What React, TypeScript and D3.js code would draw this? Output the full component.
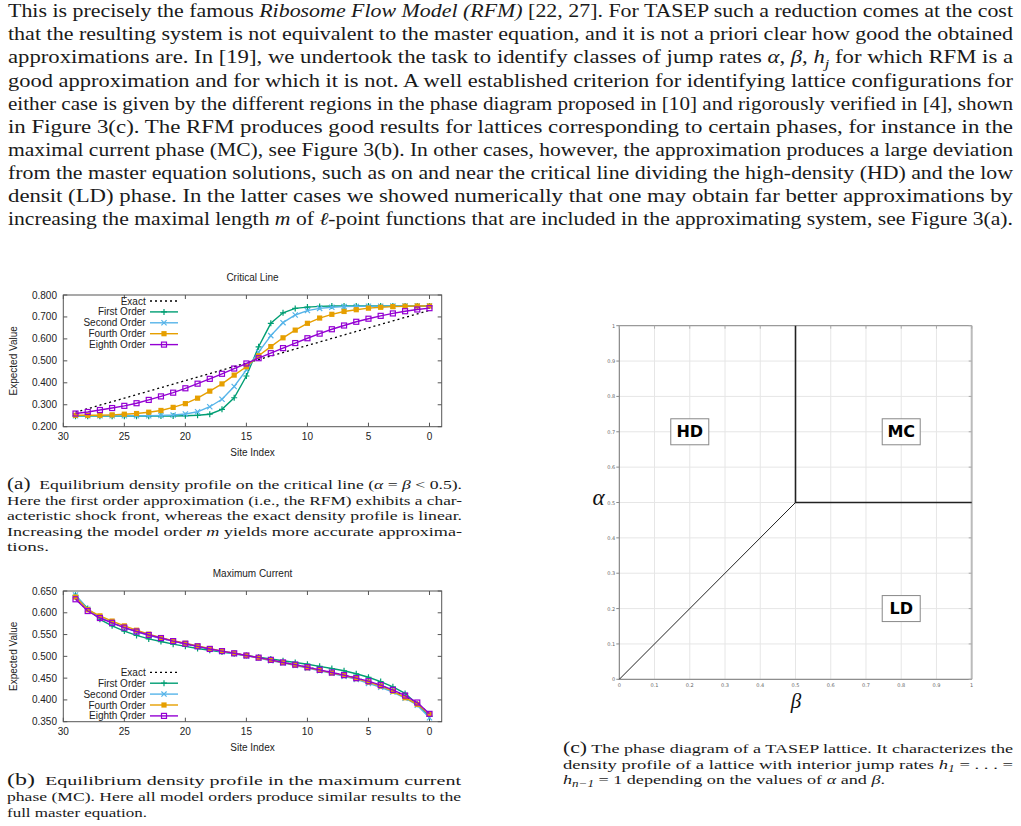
import * as d3 from 'd3'

// ---- data -------------------------------------------------------------

// lattice sites, drawn right to left (29 ... 0)
const SITES = [29, 28, 27, 26, 25, 24, 23, 22, 21, 20, 19, 18, 17, 16, 15, 14, 13, 12, 11, 10, 9, 8, 7, 6, 5, 4, 3, 2, 1, 0]

// critical line, alpha = beta < 0.5
const critExact = [0.266, 0.282, 0.298, 0.314, 0.330, 0.346, 0.362, 0.378, 0.394, 0.410, 0.426, 0.442, 0.458, 0.474, 0.490, 0.506, 0.522, 0.538, 0.554, 0.570, 0.586, 0.602, 0.618, 0.634, 0.650, 0.666, 0.682, 0.698, 0.714, 0.730]
const critFirst = [0.248, 0.248, 0.248, 0.248, 0.248, 0.248, 0.248, 0.249, 0.249, 0.250, 0.252, 0.257, 0.279, 0.332, 0.431, 0.564, 0.671, 0.719, 0.739, 0.745, 0.748, 0.750, 0.750, 0.750, 0.750, 0.750, 0.750, 0.750, 0.750, 0.750]
const critSecond = [0.250, 0.250, 0.250, 0.250, 0.250, 0.250, 0.250, 0.251, 0.253, 0.258, 0.268, 0.291, 0.325, 0.383, 0.459, 0.540, 0.615, 0.674, 0.709, 0.729, 0.739, 0.744, 0.747, 0.748, 0.749, 0.749, 0.750, 0.750, 0.750, 0.750]
const critFourth = [0.252, 0.252, 0.252, 0.254, 0.257, 0.260, 0.266, 0.274, 0.288, 0.305, 0.330, 0.362, 0.395, 0.435, 0.473, 0.523, 0.565, 0.605, 0.640, 0.671, 0.695, 0.712, 0.725, 0.733, 0.740, 0.744, 0.747, 0.749, 0.750, 0.750]
const critEighth = [0.260, 0.267, 0.276, 0.285, 0.295, 0.307, 0.322, 0.338, 0.355, 0.375, 0.396, 0.418, 0.441, 0.465, 0.488, 0.512, 0.535, 0.558, 0.581, 0.603, 0.624, 0.644, 0.661, 0.678, 0.692, 0.705, 0.716, 0.726, 0.734, 0.740]

// maximum current phase
const maxExact = [0.633, 0.605, 0.589, 0.577, 0.566, 0.557, 0.549, 0.542, 0.535, 0.529, 0.523, 0.517, 0.512, 0.507, 0.502, 0.497, 0.492, 0.486, 0.481, 0.475, 0.469, 0.463, 0.457, 0.450, 0.442, 0.433, 0.422, 0.409, 0.393, 0.367]
const maxFirst = [0.640, 0.610, 0.585, 0.570, 0.558, 0.548, 0.540, 0.534, 0.528, 0.523, 0.518, 0.514, 0.510, 0.506, 0.502, 0.498, 0.494, 0.490, 0.486, 0.482, 0.477, 0.472, 0.467, 0.460, 0.452, 0.442, 0.430, 0.415, 0.390, 0.362]
const maxSecond = [0.641, 0.608, 0.590, 0.577, 0.566, 0.556, 0.548, 0.541, 0.535, 0.529, 0.523, 0.517, 0.511, 0.506, 0.501, 0.496, 0.490, 0.485, 0.479, 0.473, 0.467, 0.461, 0.454, 0.447, 0.438, 0.429, 0.418, 0.404, 0.388, 0.359]
const maxFourth = [0.636, 0.607, 0.593, 0.581, 0.570, 0.560, 0.551, 0.543, 0.536, 0.530, 0.524, 0.518, 0.512, 0.507, 0.502, 0.497, 0.491, 0.486, 0.480, 0.474, 0.468, 0.462, 0.456, 0.449, 0.441, 0.432, 0.420, 0.405, 0.390, 0.367]
const maxEighth = [0.631, 0.604, 0.588, 0.577, 0.566, 0.557, 0.549, 0.542, 0.535, 0.529, 0.523, 0.517, 0.512, 0.507, 0.502, 0.497, 0.492, 0.486, 0.481, 0.475, 0.469, 0.463, 0.457, 0.450, 0.443, 0.434, 0.423, 0.410, 0.394, 0.368]

const SERIES_NAMES = ['Exact', 'First Order', 'Second Order', 'Fourth Order', 'Eighth Order']
const SERIES_COLORS = ['#000000', '#009e73', '#56b4e9', '#e69f00', '#9400d3']
const SERIES_MARKERS = ['none', 'plus', 'cross', 'fsquare', 'osquare']

const X_TICKS = [30, 25, 20, 15, 10, 5, 0]
const CRIT_TICKS = [0.2, 0.3, 0.4, 0.5, 0.6, 0.7, 0.8]
const MAX_TICKS = [0.35, 0.4, 0.45, 0.5, 0.55, 0.6, 0.65]

// phase diagram: boundaries in (beta, alpha)
const PHASE_TICKS = [0, 0.1, 0.2, 0.3, 0.4, 0.5, 0.6, 0.7, 0.8, 0.9, 1]
const CRITICAL_LINE: [number, number][] = [[0, 0], [0.5, 0.5]]
const MC_BOUNDARY: [number, number][] = [[0.5, 1], [0.5, 0.5], [1, 0.5]]
const PHASES: { name: string; beta: number; alpha: number }[] = [
  { name: 'HD', beta: 0.2, alpha: 0.7 },
  { name: 'MC', beta: 0.8, alpha: 0.7 },
  { name: 'LD', beta: 0.8, alpha: 0.2 },
]

// ---- text -------------------------------------------------------------

type Seg = [string, string?]   // style: '' | 'i' | 'sub' | 'big'

const PARAGRAPH: Seg[][] = [
  [['This is precisely the famous '], ['Ribosome Flow Model (RFM)', 'i'], [' [22, 27]. For TASEP such a reduction comes at the cost']],
  [['that the resulting system is not equivalent to the master equation, and it is not a priori clear how good the obtained']],
  [['approximations are. In [19], we undertook the task to identify classes of jump rates '], ['α', 'i'], [', '], ['β', 'i'], [', '], ['h', 'i'], ['j', 'sub'], [' for which RFM is a']],
  [['good approximation and for which it is not. A well established criterion for identifying lattice configurations for']],
  [['either case is given by the different regions in the phase diagram proposed in [10] and rigorously verified in [4], shown']],
  [['in Figure 3(c). The RFM produces good results for lattices corresponding to certain phases, for instance in the']],
  [['maximal current phase (MC), see Figure 3(b). In other cases, however, the approximation produces a large deviation']],
  [['from the master equation solutions, such as on and near the critical line dividing the high-density (HD) and the low']],
  [['densit (LD) phase. In the latter cases we showed numerically that one may obtain far better approximations by']],
  [['increasing the maximal length '], ['m', 'i'], [' of '], ['ℓ', 'i'], ['-point functions that are included in the approximating system, see Figure 3(a).']],
]

const CAPTION_A: Seg[][] = [
  [['(a)', 'big'], ['  Equilibrium density profile on the critical line ('], ['α', 'i'], [' = '], ['β', 'i'], [' < 0.5).']],
  [['Here the first order approximation (i.e., the RFM) exhibits a char-']],
  [['acteristic shock front, whereas the exact density profile is linear.']],
  [['Increasing the model order '], ['m', 'i'], [' yields more accurate approxima-']],
  [['tions.']],
]
const CAPTION_B: Seg[][] = [
  [['(b)', 'big'], ['  Equilibrium density profile in the maximum current']],
  [['phase (MC). Here all model orders produce similar results to the']],
  [['full master equation.']],
]
const CAPTION_C: Seg[][] = [
  [['(c)', 'big'], [' The phase diagram of a TASEP lattice. It characterizes the']],
  [['density profile of a lattice with interior jump rates '], ['h', 'i'], ['1', 'sub'], [' = . . . =']],
  [['h', 'i'], ['n−1', 'sub'], [' = 1 depending on the values of '], ['α', 'i'], [' and '], ['β', 'i'], ['.']],
]

// ---- layout -----------------------------------------------------------

const W = 1021
const H = 826
const SERIF = '"Liberation Serif", "Times New Roman", serif'
const SANS = '"Liberation Sans", Arial, sans-serif'
const PLOT_L = 63.3
const PLOT_R = 441.7

// one typeset line, stretched to its measure
function TextLine({ segs, x, y, width, size }: { segs: Seg[]; x: number; y: number; width: number; size: number }) {
  let shifted = false
  return (
    <text x={x} y={y} fontFamily={SERIF} fontSize={size} fill="#1a1a1a"
      textLength={width} lengthAdjust="spacingAndGlyphs" style={{ whiteSpace: 'pre' }}>
      {segs.map(([t, s], i) => {
        let dy: number | undefined
        if (s === 'sub') { dy = size * 0.25; shifted = true }
        else if (shifted) { dy = -size * 0.25; shifted = false }
        return (
          <tspan key={i} dy={dy}
            fontStyle={s === 'i' || s === 'sub' ? 'italic' : undefined}
            fontSize={s === 'sub' ? size * 0.72 : s === 'big' ? size * 1.2 : undefined}>
            {t}
          </tspan>
        )
      })}
    </text>
  )
}

function Marker({ kind, x, y, color }: { kind: string; x: number; y: number; color: string }) {
  const s = 2.6
  if (kind === 'plus') return <path d={`M${x - s - 0.4},${y}H${x + s + 0.4}M${x},${y - s - 0.4}V${y + s + 0.4}`} stroke={color} strokeWidth={1.2} />
  if (kind === 'cross') return <path d={`M${x - s},${y - s}L${x + s},${y + s}M${x - s},${y + s}L${x + s},${y - s}`} stroke={color} strokeWidth={1.2} />
  if (kind === 'fsquare') return <rect x={x - 2.6} y={y - 2.6} width={5.2} height={5.2} fill={color} />
  if (kind === 'osquare') return <rect x={x - 2.5} y={y - 2.5} width={5} height={5} fill="none" stroke={color} strokeWidth={1.2} />
  return null
}

function ProfileChart({ top, bottom, title, series, yDomain, yTicks, legendTop }: {
  top: number; bottom: number; title: string; series: number[][]; yDomain: [number, number]; yTicks: number[]; legendTop: number
}) {
  const x = d3.scaleLinear().domain([30, -1]).range([PLOT_L, PLOT_R])
  const y = d3.scaleLinear().domain(yDomain).range([bottom, top])
  const line = d3.line<number>().x((_, i) => x(SITES[i])).y(v => y(v))
  const fmt = d3.format('.3f')
  const axisColor = '#555'
  const midX = (PLOT_L + PLOT_R) / 2

  return (
    <g fontFamily={SANS} fontSize={10} fill="#222">
      <text x={midX} y={top - 14} textAnchor="middle">{title}</text>

      {/* ticks, mirrored on all sides */}
      {yTicks.map(t => (
        <g key={t}>
          <line x1={PLOT_L} x2={PLOT_L + 4} y1={y(t)} y2={y(t)} stroke={axisColor} />
          <line x1={PLOT_R} x2={PLOT_R - 4} y1={y(t)} y2={y(t)} stroke={axisColor} />
          <text x={57} y={y(t)} textAnchor="end" dominantBaseline="central">{fmt(t)}</text>
        </g>
      ))}
      {X_TICKS.map(t => (
        <g key={t}>
          <line x1={x(t)} x2={x(t)} y1={bottom} y2={bottom - 4} stroke={axisColor} />
          <line x1={x(t)} x2={x(t)} y1={top} y2={top + 4} stroke={axisColor} />
          <text x={x(t)} y={bottom + 13} textAnchor="middle">{t}</text>
        </g>
      ))}
      <rect x={PLOT_L} y={top} width={PLOT_R - PLOT_L} height={bottom - top} fill="none" stroke={axisColor} />

      <text x={midX} y={bottom + 29.5} textAnchor="middle">Site Index</text>
      <text transform={`translate(17,${(top + bottom) / 2}) rotate(-90)`} textAnchor="middle">Expected Value</text>

      {series.map((vals, k) => (
        <g key={k}>
          <path d={line(vals) ?? ''} fill="none" stroke={SERIES_COLORS[k]}
            strokeWidth={k === 0 ? 1.3 : 1.4} strokeDasharray={k === 0 ? '2,3' : undefined} />
          {vals.map((v, i) => <Marker key={i} kind={SERIES_MARKERS[k]} x={x(SITES[i])} y={y(v)} color={SERIES_COLORS[k]} />)}
        </g>
      ))}

      {/* key */}
      {SERIES_NAMES.map((name, k) => {
        const ly = legendTop + k * 10.9
        return (
          <g key={name}>
            <text x={145.7} y={ly} textAnchor="end" dominantBaseline="central">{name}</text>
            <line x1={150} x2={178} y1={ly} y2={ly} stroke={SERIES_COLORS[k]}
              strokeWidth={k === 0 ? 1.3 : 1.4} strokeDasharray={k === 0 ? '2,3' : undefined} />
            <Marker kind={SERIES_MARKERS[k]} x={164} y={ly} color={SERIES_COLORS[k]} />
          </g>
        )
      })}
    </g>
  )
}

function PhaseDiagram() {
  const x = d3.scaleLinear().domain([0, 1]).range([619.3, 971.7])
  const y = d3.scaleLinear().domain([0, 1]).range([679.3, 325.7])
  const path = d3.line<[number, number]>().x(d => x(d[0])).y(d => y(d[1]))
  const tf = (t: number) => (t === 0 || t === 1 ? String(t) : d3.format('.1f')(t))

  return (
    <g>
      {PHASE_TICKS.map(t => (
        <g key={t}>
          <line x1={x(t)} x2={x(t)} y1={y(0)} y2={y(1)} stroke="#e6e6e6" />
          <line x1={x(0)} x2={x(1)} y1={y(t)} y2={y(t)} stroke="#e6e6e6" />
        </g>
      ))}
      <line x1={x(0)} x2={x(1)} y1={y(1)} y2={y(1)} stroke="#888" />
      <line x1={x(1)} x2={x(1)} y1={y(0)} y2={y(1)} stroke="#bbb" strokeWidth={2} />
      <line x1={x(0)} x2={x(0)} y1={y(0)} y2={y(1)} stroke="#777" />
      <line x1={x(0)} x2={x(1)} y1={y(0)} y2={y(0)} stroke="#777" />
      {PHASE_TICKS.map(t => (
        <g key={t} fontFamily='"DejaVu Sans", sans-serif' fontSize={5} fill="#666">
          <line x1={x(0)} x2={x(0) - 3} y1={y(t)} y2={y(t)} stroke="#888" />
          <line x1={x(1)} x2={x(1) - 3} y1={y(t)} y2={y(t)} stroke="#aaa" />
          <line x1={x(t)} x2={x(t)} y1={y(1)} y2={y(1) + 3} stroke="#aaa" />
          <text x={x(0) - 4} y={y(t)} textAnchor="end" dominantBaseline="central">{tf(t)}</text>
          <text x={x(t)} y={y(0) + 6} textAnchor="middle" dominantBaseline="central">{tf(t)}</text>
        </g>
      ))}

      <path d={path(CRITICAL_LINE) ?? ''} fill="none" stroke="#222" strokeWidth={1} />
      <path d={path(MC_BOUNDARY) ?? ''} fill="none" stroke="#222" strokeWidth={1.6} />

      {PHASES.map(p => (
        <g key={p.name}>
          <rect x={x(p.beta) - 19} y={y(p.alpha) - 13} width={38} height={26} fill="#fff" stroke="#888" />
          <text x={x(p.beta)} y={y(p.alpha)} textAnchor="middle" dominantBaseline="central"
            fontFamily='"DejaVu Sans", sans-serif' fontWeight="bold" fontSize={16} fill="#000">{p.name}</text>
        </g>
      ))}

      <text x={592.5} y={505} fontFamily={SERIF} fontStyle="italic" fontSize={23} fill="#111">α</text>
      <text x={796} y={708} textAnchor="middle" fontFamily={SERIF} fontStyle="italic" fontSize={21} fill="#111">β</text>
    </g>
  )
}

export default function App() {
  const paraBase = [17.2, 40.3, 63.4, 86.5, 109.6, 132.7, 155.8, 178.9, 202, 225.1]
  const capA = [489, 504.5, 520, 535.5, 551]
  const capB = [784.5, 800.5, 816.5]
  const capC = [752.5, 768.5, 784]
  const capAWidths = [455, 455, 455, 455, 42]
  const capBWidths = [454, 454, 140]
  const capCWidths = [450, 450, 322]

  return (
    <svg width={W} height={H} viewBox={`0 0 ${W} ${H}`}
      style={{ position: 'absolute', left: 0, top: 0, background: '#fff', display: 'block' }}>
      {PARAGRAPH.map((segs, i) => (
        <TextLine key={i} segs={segs} x={8} y={paraBase[i]} width={1005} size={18} />
      ))}

      <ProfileChart top={295} bottom={426.7} title="Critical Line" yDomain={[0.2, 0.8]} yTicks={CRIT_TICKS}
        series={[critExact, critFirst, critSecond, critFourth, critEighth]} legendTop={301} />
      <ProfileChart top={591} bottom={721.7} title="Maximum Current" yDomain={[0.35, 0.65]} yTicks={MAX_TICKS}
        series={[maxExact, maxFirst, maxSecond, maxFourth, maxEighth]} legendTop={672.3} />

      {CAPTION_A.map((segs, i) => (
        <TextLine key={i} segs={segs} x={7} y={capA[i]} width={capAWidths[i]} size={13.5} />
      ))}
      {CAPTION_B.map((segs, i) => (
        <TextLine key={i} segs={segs} x={7} y={capB[i]} width={capBWidths[i]} size={13.5} />
      ))}

      <PhaseDiagram />

      {CAPTION_C.map((segs, i) => (
        <TextLine key={i} segs={segs} x={563} y={capC[i]} width={capCWidths[i]} size={13.5} />
      ))}
    </svg>
  )
}
